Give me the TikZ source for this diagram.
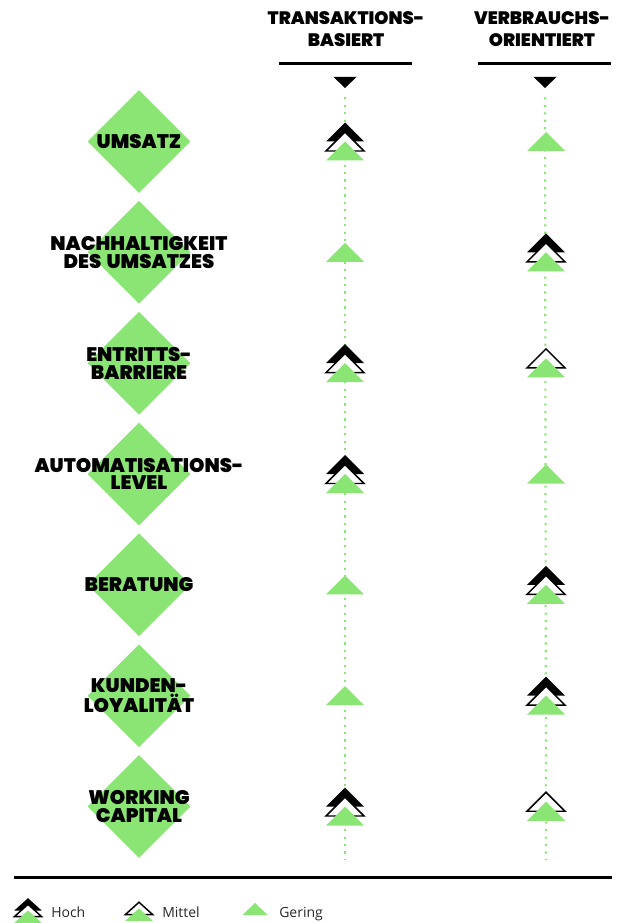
\documentclass[tikz,border=0pt]{standalone}
\usepackage{fontspec}
\setmainfont{Open Sans}
\newfontfamily\heavyfont{Poppins}[UprightFont={* Black}, WordSpace=1.6]
\usetikzlibrary{shapes.geometric}
\definecolor{lightgreen}{RGB}{139,229,116}
\definecolor{legendgray}{RGB}{40,40,40}

\begin{document}
\begin{tikzpicture}[x=0.75pt,y=-0.75pt,
	raute/.style={diamond, fill=lightgreen, inner sep=0pt, minimum width=77.25pt, minimum height=77.25pt},
	kriterium/.style={font=\heavyfont\fontsize{14.7}{13.2}\selectfont, align=center},
	kopf/.style={font=\heavyfont\fontsize{13.5}{16.5}\selectfont, align=center},
	strich/.style={line width=2pt},
	spur/.style={draw=lightgreen, line width=1.6pt, dash pattern=on 1.6pt off 4pt},
	legende/.style={font=\fontsize{10.5}{12}\selectfont, text=legendgray, anchor=base west, inner sep=0pt},
	hoch/.pic={
		\fill[black] (-19,0) -- (0,-19) -- (19,0) -- cycle;
		\draw[fill=white, line width=1.1pt] (-19,9.5) -- (0,-9.5) -- (19,9.5) -- cycle;
		\fill[lightgreen] (-19,19) -- (0,0) -- (19,19) -- cycle;
	},
	mittel/.pic={
		\draw[fill=white, line width=1.1pt] (-19,4.75) -- (0,-14.25) -- (19,4.75) -- cycle;
		\fill[lightgreen] (-19,14.25) -- (0,-4.75) -- (19,14.25) -- cycle;
	},
	gering/.pic={
		\fill[lightgreen] (-19,9.5) -- (0,-9.5) -- (19,9.5) -- cycle;
	}]
	\useasboundingbox (0,0) rectangle (628,923);

	% column heads
	\node[kopf] (transaktion) at (346,29.5) {TRANSAKTIONS-\\BASIERT};
	\node[kopf] (verbrauch) at (542,29.5) {VERBRAUCHS-\\ORIENTIERT};
	\draw[strich] (279,63.5) -- (412,63.5);
	\draw[strich] (478,63.5) -- (611,63.5);
	\coordinate (spitzeA) at (345,88);
	\coordinate (spitzeB) at (545,88);
	\fill (spitzeA) -- ++(-11.5,-11) -- ++(23,0) -- cycle;
	\fill (spitzeB) -- ++(-11.5,-11) -- ++(23,0) -- cycle;
	\coordinate (endeA) at (345,860);
	\coordinate (endeB) at (546,860);
	\draw[spur, shorten <=7pt] (spitzeA) -- (endeA);
	\draw[spur, shorten <=7pt] (spitzeB) -- (endeB);

	% criteria
	\node[raute] (r1) at (139,141.5) {};
	\node[raute] (r2) at (139,252.3) {};
	\node[raute] (r3) at (139,363.2) {};
	\node[raute] (r4) at (139,474) {};
	\node[raute] (r5) at (139,584.8) {};
	\node[raute] (r6) at (139,695.7) {};
	\node[raute] (r7) at (139,806.5) {};
	\node[kriterium] (k1) at (r1) {UMSATZ};
	\node[kriterium] (k2) at (r2) {NACHHALTIGKEIT\\DES UMSATZES};
	\node[kriterium] (k3) at (r3) {ENTRITTS-\\BARRIERE};
	\node[kriterium] (k4) at (r4) {AUTOMATISATIONS-\\LEVEL};
	\node[kriterium] (k5) at (r5) {BERATUNG};
	\node[kriterium] (k6) at (r6) {KUNDEN-\\LOYALITÄT};
	\node[kriterium] (k7) at (r7) {WORKING\\CAPITAL};

	% ratings
	\pic (a1) at (345,141.5) {hoch};
	\pic (b1) at (546,141.5) {gering};
	\pic (a2) at (345,252.3) {gering};
	\pic (b2) at (546,252.3) {hoch};
	\pic (a3) at (345,363.2) {hoch};
	\pic (b3) at (546,363.2) {mittel};
	\pic (a4) at (345,474) {hoch};
	\pic (b4) at (546,474) {gering};
	\pic (a5) at (345,584.8) {gering};
	\pic (b5) at (546,584.8) {hoch};
	\pic (a6) at (345,695.7) {gering};
	\pic (b6) at (546,695.7) {hoch};
	\pic (a7) at (345,806.5) {hoch};
	\pic (b7) at (546,806.5) {mittel};

	% legend
	\draw[strich] (14,877.5) -- (612,877.5);
	\pic[xscale=0.72, yscale=0.65] (lh) at (28,910.5) {hoch};
	\pic[xscale=0.72, yscale=0.65] (lm) at (139,911.5) {mittel};
	\pic[xscale=0.66, yscale=0.65] (lg) at (255,909) {gering};
	\node[legende] (th) at (51,917) {Hoch};
	\node[legende] (tm) at (162,917) {Mittel};
	\node[legende] (tg) at (279,917) {Gering};
\end{tikzpicture}
\end{document}
